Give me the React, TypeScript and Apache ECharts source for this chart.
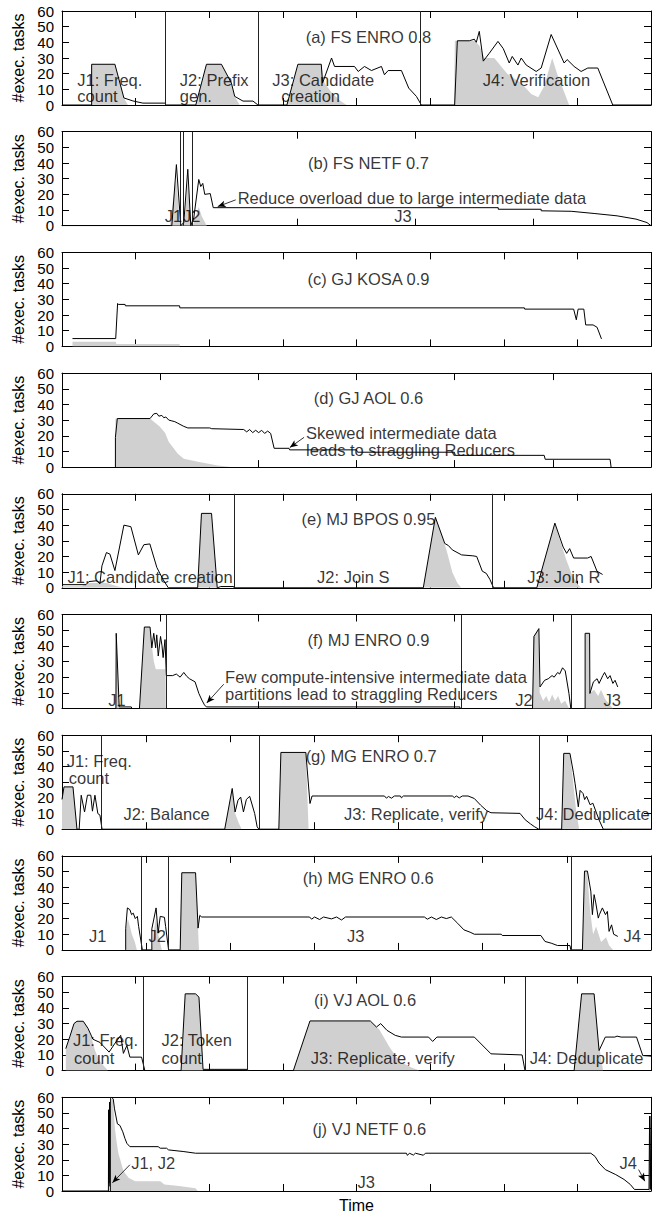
import React, { useEffect, useRef } from "react";
import * as echarts from "echarts";

const FONT = "'Liberation Sans', Arial, Helvetica, sans-serif";
const TEXT_SIZE = 16.5;

// x values are time units (0..590 per panel), y values are #exec. tasks
// texts: [x, y, text, align]  arrows: [x1, y1, x2, y2]

// (a) FS ENRO 0.8
const aTicks = 8;
const aLine = [[0,0],[29.7,0],[29.7,26],[53,26],[62,4.5],[71,2.6],[81,1.2],[103.7,1.2],[103.7,0],[134,0],[144.7,26],[159.7,26],[169.7,14],[173,5.5],[181.3,2.5],[191.3,2.5],[196.3,0],[225.3,0],[236.3,26],[259.7,26],[261,14],[270,30],[273,24.6],[293,24.6],[296.7,21.4],[303,24.6],[310,22],[320,24.6],[323,19.3],[326.7,22],[340,22],[347.3,10.8],[355,5.5],[360,0],[393.3,0],[396,41],[408,41],[413,42],[415,40],[418,47],[422,28],[428,33],[436.7,40.6],[442,36],[448,26.8],[451,31],[456.7,25.5],[460,30],[465,25.5],[475,21.4],[480,23.6],[490,45],[503,26.8],[506,29],[513,24.6],[520,21.4],[526.7,23.6],[536.7,23.6],[551.7,0],[590,0]];
const aArea = [[29.7,0],[29.7,26],[53,26],[62,4.5],[66,0],[134,0],[144.7,26],[159.7,26],[169.7,14],[173,5.5],[178,0],[225.3,0],[236.3,26],[259.7,26],[263,14],[270,8],[278,3],[285,0],[392.7,0],[393.5,41],[413,41],[418,38],[423,30],[433,30],[446,20],[460,14],[470,7],[477,5],[483,12],[491,30],[496,20],[508,0]];
const aSeps = [103.7, 196.3, 359.3];
const aTexts = [[307,43.7,"(a) FS ENRO 0.8","c"],[15.3,16,"J1: Freq.","l"],[15.3,5.5,"count","l"],[118,16,"J2: Prefix","l"],[118,5.5,"gen.","l"],[210.7,16,"J3: Candidate","l"],[219.7,5.5,"creation","l"],[475.3,16,"J4: Verification","c"]];
const aArrows = [];

// (b) FS NETF 0.7
const bTicks = 5;
const bLine = [[0,0],[110,0],[114.6,39],[119,0],[122,2],[126,36],[129,0],[132,5],[137,29.5],[139,25],[141,27],[143,20],[148.5,20.5],[151.5,11.5],[437,11.5],[437,10.5],[480,10.5],[480,9.5],[510,9.2],[533,7.8],[556,6.3],[575,4.2],[586,2],[590,0]];
const bArea = [[108,0],[112,20],[114.5,30],[117,10],[119,0],[123,5],[126,28],[128.5,5],[131,0],[134,6],[137,12],[140,6],[145,0]];
const bSeps = [118.5, 121, 130];
const bTexts = [[307,40,"(b) FS NETF 0.7","c"],[111.6,5.9,"J1","c"],[130,5.9,"J2","c"],[341.5,5.9,"J3","c"],[176,17.5,"Reduce overload due to large intermediate data","l"]];
const bArrows = [[174,16.5,156,12.2]];

// (c) GJ KOSA 0.9
const cTicks = 8;
const cLine = [[10.5,5],[53.8,5],[55.7,27.4],[56.5,26.8],[63.2,26.8],[63.5,25.9],[117.8,25.9],[118,24.6],[463.2,24.6],[463.5,23.8],[512.5,23.8],[515.2,17],[517,23.8],[522.7,23.8],[524.6,13.7],[532,13.7],[536,12.2],[537,10.5],[540.4,4.8]];
const cArea = [[10.5,0],[10.5,3],[53.8,3],[54.5,1.5],[117.8,1.5],[118,0]];
const cSeps = [];
const cTexts = [[307,43,"(c) GJ KOSA 0.9","c"]];
const cArrows = [];

// (d) GJ AOL 0.6
const dTicks = 6;
const dLine = [[53.5,0],[53.5,19],[55.4,31],[88.2,31],[92,34],[95,34.3],[97,32.5],[100,33],[102,31.5],[104,32],[107,30],[110,29.5],[113,29],[116,28],[122,26],[126,25],[148,25],[150,24.5],[182,24],[185,22.5],[188,24],[191,22],[194,23.5],[197,22],[200,23.5],[203,21.5],[206,23],[209,21.5],[212.5,12],[227.4,12],[228,11],[295,11],[296,9.5],[393,9.5],[394,7.5],[483,7.5],[484,5],[549,5],[550,0]];
const dArea = [[53.5,0],[53.5,31],[88.2,31],[92,29],[97.6,26],[103.2,22],[107,16],[110.7,13],[116,8.5],[122,5.4],[135,3.5],[155.9,1],[170,0]];
const dSeps = [];
const dTexts = [[307,44,"(d) GJ AOL 0.6","c"],[244.4,21.5,"Skewed intermediate data","l"],[244.4,11,"leads to straggling Reducers","l"]];
const dArrows = [[242.5,19,228.2,12.5]];

// (e) MJ BPOS 0.95
const eTicks = 8;
const eLine = [[0,2],[24,2],[27,4],[35,4.5],[38,2.5],[40,14],[44.5,22.5],[48,21.5],[53,11],[62,40],[69,39],[76.5,21],[82,27.5],[88,28],[95,13],[101,5.5],[106.5,0],[135.9,0],[139.7,47.5],[149.8,47.5],[155.5,0],[159,0.8],[172,0.8],[172.4,0],[361.9,0],[374,45],[383.4,28.3],[387,27],[391,24.2],[400.3,21],[411.6,20.4],[415.4,20],[421,10.6],[425,9.2],[428.6,5.4],[432.3,0],[475.6,0],[493.7,41.3],[502,26],[505.5,22],[508.5,25],[512.5,19],[526.5,19],[530,20],[535.9,10.6],[541.5,8.5]];
const eArea = [[0,1],[20,1],[25,3],[45,3],[55,1],[62,0],[135.9,0],[139.7,47.5],[149.8,47.5],[155.5,0],[361.9,0],[374,45],[380,35],[386,22],[391,10],[396,3],[400,0],[475.6,0],[493.7,41.3],[499,30],[505,18],[511,8],[517,2],[520,0]];
const eSeps = [172.4, 431.2];
const eTexts = [[307,44,"(e) MJ BPOS 0.95","c"],[5.5,7,"J1: Candidate creation","l"],[291.8,7,"J2: Join S","c"],[502.7,7,"J3: Join R","c"]];
const eArrows = [];

// (f) MJ ENRO 0.9
const fTicks = 6;
const fLine = [[0,0],[54,0],[54.3,48],[57.3,1],[69.4,1],[70,0],[77.6,0],[82.5,52],[88.2,52],[90,38.7],[91.9,48],[93.8,38.7],[94.9,47],[96.4,33.5],[98.7,46],[100.2,40],[101.3,32.5],[103.2,44],[104.5,21],[110.8,21],[114.5,22],[118.3,20],[122,23],[125,20.5],[127.7,19],[133.3,17],[137.1,9.6],[140.1,5.4],[142.7,2.3],[144.6,1],[398.6,1],[398.6,0],[471.3,0],[472.8,46],[477.7,51],[478.8,13.75],[483.4,18],[487.1,19],[490.9,21],[493,20],[496.5,23],[498.5,22],[501.4,26],[504.1,24],[507.8,9.6],[509.7,0],[524,0],[524,48],[528.5,48],[528.8,9.6],[532.3,17],[536,19],[538,16],[541.7,21],[543.5,23],[546.6,19],[549,21],[551.8,16],[554,18],[556.7,13.75]];
const fArea = [[54,0],[54.3,48],[57.3,0],[77.6,0],[82.5,52],[88.2,52],[90,40],[92,30],[94,25],[103.8,25],[104,0],[471.3,0],[472,46],[477.7,51],[478.5,10],[482,5],[485,8],[488,4],[491,9],[494,5],[497,8],[500,3],[504,5],[508,0],[524,0],[524,48],[528.5,48],[529,10],[533,12],[537,8],[540,12],[544,6],[548,3],[552,0]];
const fSeps = [104.4, 399.8, 510.5];
const fTexts = [[307,44,"(f) MJ ENRO 0.9","c"],[55,5.5,"J1","c"],[462.7,5.5,"J2","c"],[551.1,5.5,"J3","c"],[163.4,20,"Few compute-intensive intermediate data","l"],[163.4,9.5,"partitions lead to straggling Reducers","l"]];
const fArrows = [[162,15.5,145,3.5]];

// (g) MG ENRO 0.7
const gTicks = 7;
const gLine = [[0,19],[2,27],[11,27],[15,0],[17.2,0],[19.25,21.7],[22.6,11],[25.5,21.7],[28.8,21.7],[30.5,11.5],[33,21.7],[35.9,10],[38,9],[40.1,0],[163,0],[170.5,26],[173.4,11],[176.3,18.5],[179,20.5],[181.75,11],[184.7,19],[188,21],[193,10],[195.5,1.5],[197.2,0],[217.2,0],[219.25,49],[244.25,49],[248.4,16.4],[250.5,21.2],[323,21.2],[325,19.8],[327,20.9],[330,19.8],[333,21.2],[339,21.2],[340,20],[342,21.2],[391,21.2],[393,20.2],[395,21.2],[398,20],[401,21.2],[406.75,21.2],[413,19.6],[419.25,15.4],[425.5,11.8],[429.7,10.5],[458.8,10.1],[464,6],[469.25,3.4],[473,1.7],[477.6,0],[500.5,0],[502.6,48.4],[508.8,48.4],[512.2,36.4],[514,29],[517.2,14.3],[519,24.8],[522,22.7],[523.5,18.9],[525.5,21],[529,15.6],[531.75,16.6],[538,5.9],[542.2,0],[590,0]];
const gArea = [[0,0],[0,19],[2,27],[11,27],[15,0],[163,0],[170.5,26],[173.5,10],[177,4],[180,0],[217.2,0],[219.25,49],[244.25,49],[247,0],[500.5,0],[502.6,48.4],[508.8,48.4],[512,30],[515,12],[518,0]];
const gSeps = [39.25, 197.2, 477.6];
const gTexts = [[309.7,47,"(g) MG ENRO 0.7","c"],[4.7,43.8,"J1: Freq.","l"],[6.75,33,"count","l"],[104.7,10,"J2: Balance","c"],[354.7,10,"J3: Replicate, verify","c"],[531.75,10,"J4: Deduplicate","c"]];
const gArrows = [];

// (h) MG ENRO 0.6
const hTicks = 7;
const hLine = [[63.8,0],[63.8,13.5],[65.5,26.8],[68,25.7],[69.7,22.5],[71.3,23.5],[73.4,20],[75.5,21.4],[76.75,15],[80.5,0],[90,0],[90,13.5],[94.25,26.8],[96.3,10.7],[98.4,21.4],[102.6,20.8],[103.8,15],[106.75,0],[118.4,0],[120,49.25],[133.8,49.25],[136.3,13.9],[138,22],[140,21],[248,21],[250,19.6],[253,21],[258,19.4],[262,21],[270,19.8],[275,21],[280,19.1],[284,21],[363,21],[366,19.6],[370,21],[375,19.4],[380,21],[385,20],[390,21],[396.3,17],[402.6,12.8],[408.8,11.3],[413,10],[440,10],[441,9.2],[479.7,9.2],[483.8,5.4],[490,4.3],[496.3,2.8],[508.8,2.8],[509.7,0],[521.3,0],[523.4,50.3],[526.3,50.3],[529.7,37.5],[531.3,22.5],[533,35.3],[534.7,30],[537.2,20.3],[538.3,22.5],[541.3,26.8],[544.4,22.5],[546.3,24.6],[548,11.8],[550.5,16],[552.6,10],[556.75,8.6]];
const hArea = [[63.8,0],[64,13],[66,20],[70,10],[73,5],[75,0],[90,0],[92,12],[94,20],[97,8],[100,0],[118.4,0],[120,49.25],[133.8,49.25],[137.2,0],[521.3,0],[523.4,50],[526,50],[529,25],[532,10],[535,15],[540,5],[545,8],[548,3],[552,0]];
const hSeps = [79.7, 106.75, 509.7];
const hTexts = [[306.75,46,"(h) MG ENRO 0.6","c"],[35.9,8.6,"J1","c"],[95.5,8.6,"J2","c"],[294.25,8.6,"J3","c"],[571.3,8.6,"J4","c"]];
const hArrows = [];

// (i) VJ AOL 0.6
const iTicks = 8;
const iLine = [[3.8,14],[8,22],[12,30],[15,31.5],[21.3,31.5],[26,27],[31,20],[38,18],[47.2,11.8],[52.6,17],[58.8,22.5],[61.5,11],[65,16],[68,8.6],[79.7,8.6],[83,0],[119.25,0],[123.4,49],[133.8,49],[137.2,46.9],[141.3,0.8],[185.9,0.8],[186,0],[231.75,0],[248.4,31.7],[308.8,31.7],[315,27.8],[319.25,30],[325.5,25.7],[333.8,22.5],[340,21.4],[367.2,21.4],[371.3,18.6],[375.5,21.4],[413,21.4],[429.7,10.7],[460.9,10],[463.8,0],[513,0],[520.5,49],[533,49],[538,12.8],[544.25,21.4],[553.8,21.4],[556,22],[560,21.4],[575.5,21.4],[581.75,9.6],[590,9.2]];
const iArea = [[3.8,0],[3.8,14],[8,22],[12,30],[15,31.5],[21.3,31.5],[25.5,28],[30,20],[33,13],[37,7],[42,3],[46,0],[119.25,0],[123.4,49],[133.8,49],[137.2,46.9],[141.3,0],[231.75,0],[248.4,31.7],[308.8,31.7],[318,26],[328,15],[338,6],[350,2],[358,0],[513,0],[520.5,49],[533,49],[537,20],[542,0]];
const iSeps = [81.75, 185.9, 463.8];
const iTexts = [[303.6,45,"(i) VJ AOL 0.6","c"],[10.9,19.5,"J1: Freq.","l"],[12,8,"count","l"],[99.7,19.5,"J2: Token","l"],[99.7,8,"count","l"],[321.3,8,"J3: Replicate, verify","c"],[525.5,8,"J4: Deduplicate","c"]];
const iArrows = [];

// (j) VJ NETF 0.6
const jTicks = 8;
const jLine = [[0,0],[46.5,0],[46.7,52],[47.1,5],[47.6,57],[48.1,3],[48.6,60],[49.4,60],[51.3,59],[52.6,52.6],[55.5,43],[58,42],[60.9,37.9],[63,33.7],[65,30.5],[68,28.4],[96.3,28.4],[98.4,27.4],[104.7,27.4],[106.8,26.3],[121.3,25.3],[133.8,24.2],[345,24.2],[346,22.8],[348,24.2],[352,23],[354,24.2],[362,22.9],[364,24.2],[529.7,24.2],[534,22.1],[538,17.9],[544.25,13.7],[554.7,10.5],[563,7.4],[569.25,4.2],[573.4,1],[588,1],[588.6,48],[589.3,1],[590,48]];
const jArea = [[46.5,0],[46.7,50],[47.1,0],[47.6,55],[48.1,0],[48.6,60],[51,58],[53,40],[54.7,31.6],[56.5,24],[58.8,19],[61,14],[63,11.6],[67,8.4],[73.4,6.3],[98.4,6.3],[102.6,4.2],[117.2,3.2],[133.8,1.7],[135.9,0],[588,0],[588.6,45],[589.3,0]];
const jSeps = [48.4];
const jTexts = [[307.8,40,"(j) VJ NETF 0.6","c"],[69.25,18,"J1, J2","l"],[304.7,6,"J3","c"],[567.2,18,"J4","c"]];
const jArrows = [[68,16.8,50.5,5.3],[577.6,13.7,583.8,6.3]];

const PANELS = [
  { ticks: aTicks, line: aLine, area: aArea, seps: aSeps, texts: aTexts, arrows: aArrows },
  { ticks: bTicks, line: bLine, area: bArea, seps: bSeps, texts: bTexts, arrows: bArrows },
  { ticks: cTicks, line: cLine, area: cArea, seps: cSeps, texts: cTexts, arrows: cArrows },
  { ticks: dTicks, line: dLine, area: dArea, seps: dSeps, texts: dTexts, arrows: dArrows },
  { ticks: eTicks, line: eLine, area: eArea, seps: eSeps, texts: eTexts, arrows: eArrows },
  { ticks: fTicks, line: fLine, area: fArea, seps: fSeps, texts: fTexts, arrows: fArrows },
  { ticks: gTicks, line: gLine, area: gArea, seps: gSeps, texts: gTexts, arrows: gArrows },
  { ticks: hTicks, line: hLine, area: hArea, seps: hSeps, texts: hTexts, arrows: hArrows },
  { ticks: iTicks, line: iLine, area: iArea, seps: iSeps, texts: iTexts, arrows: iArrows },
  { ticks: jTicks, line: jLine, area: jArea, seps: jSeps, texts: jTexts, arrows: jArrows },
];

const X_MAX = 590;

function buildOption() {
  const grid: any[] = [];
  const xAxis: any[] = [];
  const yAxis: any[] = [];
  const series: any[] = [];
  const axisLine = { show: true, onZero: false, lineStyle: { color: "#000", width: 1 } };
  const axisTick = { show: true, inside: true, length: 7, lineStyle: { color: "#000", width: 1 } };

  PANELS.forEach((p, i) => {
    grid.push({ left: 62, width: 589, top: 11 + 120.7 * i, height: 94 });
    const xb = {
      type: "value", gridIndex: i, min: 0, max: X_MAX, interval: X_MAX / p.ticks,
      axisLine, axisTick, axisLabel: { show: false }, splitLine: { show: false },
    };
    const bottom: any = { ...xb, position: "bottom" };
    if (i === PANELS.length - 1) {
      bottom.name = "Time";
      bottom.nameLocation = "middle";
      bottom.nameGap = 6;
      bottom.nameTextStyle = { fontSize: 16, color: "#000", fontFamily: FONT };
    }
    xAxis.push(bottom);
    xAxis.push({ ...xb, position: "top" });
    const yb = {
      type: "value", gridIndex: i, min: 0, max: 60, interval: 10,
      axisLine, axisTick, splitLine: { show: false },
    };
    yAxis.push({
      ...yb, position: "left",
      axisLabel: { show: true, fontSize: 15, color: "#000", margin: 8, fontFamily: FONT },
      name: "#exec. tasks", nameLocation: "middle", nameGap: 34, nameRotate: 90,
      nameTextStyle: { fontSize: 16, color: "#000", fontFamily: FONT },
    });
    yAxis.push({ ...yb, position: "right", axisLabel: { show: false } });

    const xi = 2 * i;
    series.push({
      type: "line", xAxisIndex: xi, yAxisIndex: xi, data: p.area, symbol: "none",
      lineStyle: { width: 0 }, areaStyle: { color: "#d0d0d0", opacity: 1 }, z: 1, silent: true,
    });
    series.push({
      type: "line", xAxisIndex: xi, yAxisIndex: xi, data: p.line, symbol: "none",
      lineStyle: { color: "#000", width: 1 }, z: 3, silent: true,
      markLine: {
        silent: true, symbol: ["none", "none"], label: { show: false },
        lineStyle: { color: "#222", width: 1, type: "solid" },
        data: [
          ...p.seps.map((v) => ({ xAxis: v })),
          ...p.arrows.map((a) => [
            { coord: [a[0], a[1]], symbol: "none" },
            { coord: [a[2], a[3]], symbol: "arrow", symbolSize: [5, 8], lineStyle: { width: 0.8, color: "#000" } },
          ]),
        ],
      },
    });
    series.push({
      type: "scatter", xAxisIndex: xi, yAxisIndex: xi, symbolSize: 0, clip: false, z: 5, silent: true,
      itemStyle: { color: "rgba(0,0,0,0)" },
      data: p.texts.map((t) => ({
        value: [t[0], t[1]], name: t[2],
        label: {
          show: true, formatter: "{b}", position: t[3] === "l" ? "right" : "inside", distance: 0,
          color: "#000", fontSize: TEXT_SIZE, fontFamily: FONT,
        },
      })),
    });
  });

  return { animation: false, backgroundColor: "#fff", grid, xAxis, yAxis, series };
}

export default function App() {
  const ref = useRef<HTMLDivElement>(null);
  useEffect(() => {
    if (!ref.current) return;
    const chart = echarts.init(ref.current, null, { renderer: "svg" });
    chart.setOption(buildOption() as any);
    return () => chart.dispose();
  }, []);
  return (
    <div
      ref={ref}
      style={{ position: "absolute", left: 0, top: 0, width: 652, height: 1214, background: "#fff" }}
    />
  );
}
